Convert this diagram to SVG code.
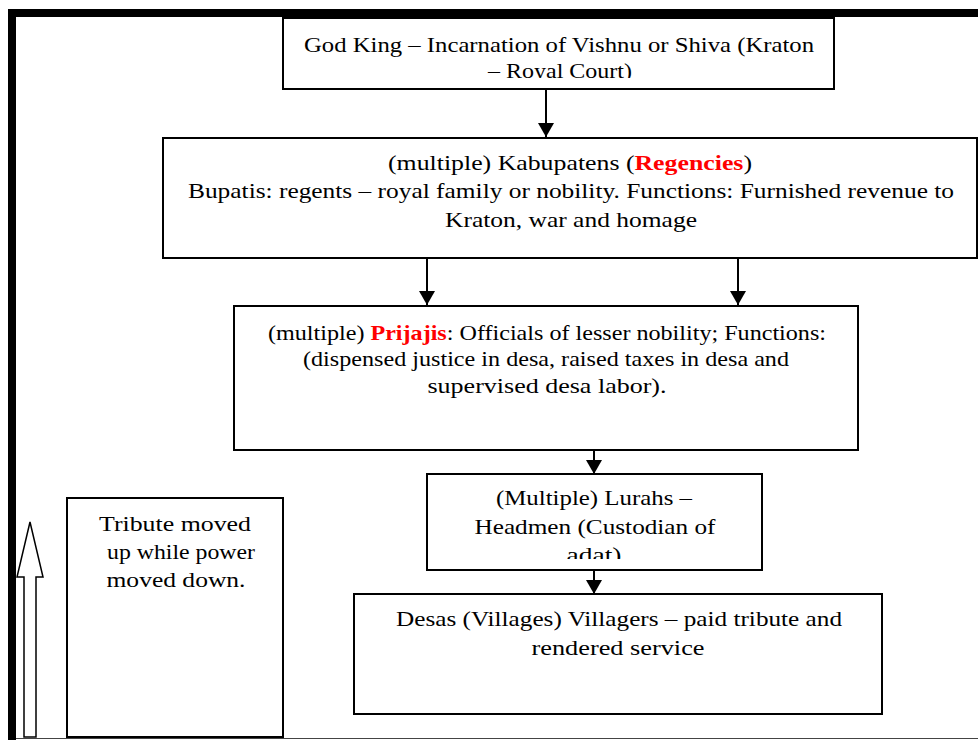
<svg xmlns="http://www.w3.org/2000/svg" width="978" height="740" viewBox="0 0 978 740">
  <style>
    .box { fill: #ffffff; stroke: #000000; stroke-width: 2; }
    .edge { stroke: #000000; stroke-width: 2; fill: none; }
    .lbl { font-family: "Liberation Serif", "Times New Roman", serif; font-size: 21px; fill: #000000; text-anchor: middle; }
    .red { fill: #ff0000; font-weight: bold; }
  </style>
  <defs>
    <marker id="head" markerWidth="14" markerHeight="16" refX="14" refY="8" orient="auto" markerUnits="userSpaceOnUse">
      <path d="M0,0 L14,8 L0,16 Z" fill="#000000"/>
    </marker>
    <clipPath id="clipKing"><rect x="284" y="19" width="548" height="59"/></clipPath>
    <clipPath id="clipLurah"><rect x="428" y="475" width="333" height="84"/></clipPath>
  </defs>

  <rect x="0" y="0" width="978" height="740" fill="#ffffff"/>

  <!-- page frame -->
  <rect x="8" y="9" width="970" height="8" fill="#000000"/>
  <rect x="8" y="9" width="8" height="731" fill="#000000"/>
  <line x1="16" y1="738.5" x2="978" y2="738.5" stroke="#444444" stroke-width="1"/>

  <!-- connectors -->
  <g id="connectors">
    <line class="edge" x1="546" y1="90" x2="546" y2="137" marker-end="url(#head)"/>
    <line class="edge" x1="427" y1="258" x2="427" y2="305" marker-end="url(#head)"/>
    <line class="edge" x1="738" y1="258" x2="738" y2="305" marker-end="url(#head)"/>
    <line class="edge" x1="594" y1="450" x2="594" y2="474" marker-end="url(#head)"/>
    <line class="edge" x1="594" y1="570" x2="594" y2="594" marker-end="url(#head)"/>
  </g>

  <g id="god-king">
    <rect class="box" x="283" y="18" width="551" height="71"/>
    <g clip-path="url(#clipKing)">
      <text class="lbl" x="559" y="52" textLength="510" lengthAdjust="spacingAndGlyphs">God King – Incarnation of Vishnu or Shiva (Kraton</text>
      <text class="lbl" x="560" y="78" textLength="144" lengthAdjust="spacingAndGlyphs">– Royal Court)</text>
    </g>
  </g>

  <g id="kabupatens">
    <rect class="box" x="163" y="138" width="814" height="120"/>
    <text class="lbl" x="570" y="170" textLength="364" lengthAdjust="spacingAndGlyphs">(multiple) Kabupatens (<tspan class="red">Regencies</tspan>)</text>
    <text class="lbl" x="571" y="198" textLength="766" lengthAdjust="spacingAndGlyphs">Bupatis: regents – royal family or nobility. Functions: Furnished revenue to</text>
    <text class="lbl" x="571" y="227" textLength="252" lengthAdjust="spacingAndGlyphs">Kraton, war and homage</text>
  </g>

  <g id="prijajis">
    <rect class="box" x="234" y="306" width="624" height="144"/>
    <text class="lbl" x="547" y="340" textLength="558" lengthAdjust="spacingAndGlyphs">(multiple) <tspan class="red">Prijajis</tspan>: Officials of lesser nobility; Functions:</text>
    <text class="lbl" x="546" y="366" textLength="486" lengthAdjust="spacingAndGlyphs">(dispensed justice in desa, raised taxes in desa and</text>
    <text class="lbl" x="547" y="393" textLength="239" lengthAdjust="spacingAndGlyphs">supervised desa labor).</text>
  </g>

  <g id="lurahs">
    <rect class="box" x="427" y="474" width="335" height="96"/>
    <g clip-path="url(#clipLurah)">
      <text class="lbl" x="594" y="505" textLength="196" lengthAdjust="spacingAndGlyphs">(Multiple) Lurahs –</text>
      <text class="lbl" x="595" y="534" textLength="241" lengthAdjust="spacingAndGlyphs">Headmen (Custodian of</text>
      <text class="lbl" x="594" y="562" textLength="55" lengthAdjust="spacingAndGlyphs">adat)</text>
    </g>
  </g>

  <g id="desas">
    <rect class="box" x="354" y="594" width="528" height="120"/>
    <text class="lbl" x="619" y="626" textLength="446" lengthAdjust="spacingAndGlyphs">Desas (Villages) Villagers – paid tribute and</text>
    <text class="lbl" x="618" y="655" textLength="173" lengthAdjust="spacingAndGlyphs">rendered service</text>
  </g>

  <!-- hollow upward arrow -->
  <g id="flow-arrow">
    <path d="M30,522 L43,577 L36,577 L36,737 L24,737 L24,577 L17,577 Z" fill="#ffffff" stroke="#000000" stroke-width="1.5" stroke-linejoin="miter"/>
  </g>

  <g id="tribute-note">
    <rect class="box" x="67" y="498" width="216" height="239"/>
    <text class="lbl" x="175" y="531" textLength="152" lengthAdjust="spacingAndGlyphs">Tribute moved</text>
    <text class="lbl" x="181" y="559" textLength="148" lengthAdjust="spacingAndGlyphs">up while power</text>
    <text class="lbl" x="176" y="587" textLength="139" lengthAdjust="spacingAndGlyphs">moved down.</text>
  </g>
</svg>
